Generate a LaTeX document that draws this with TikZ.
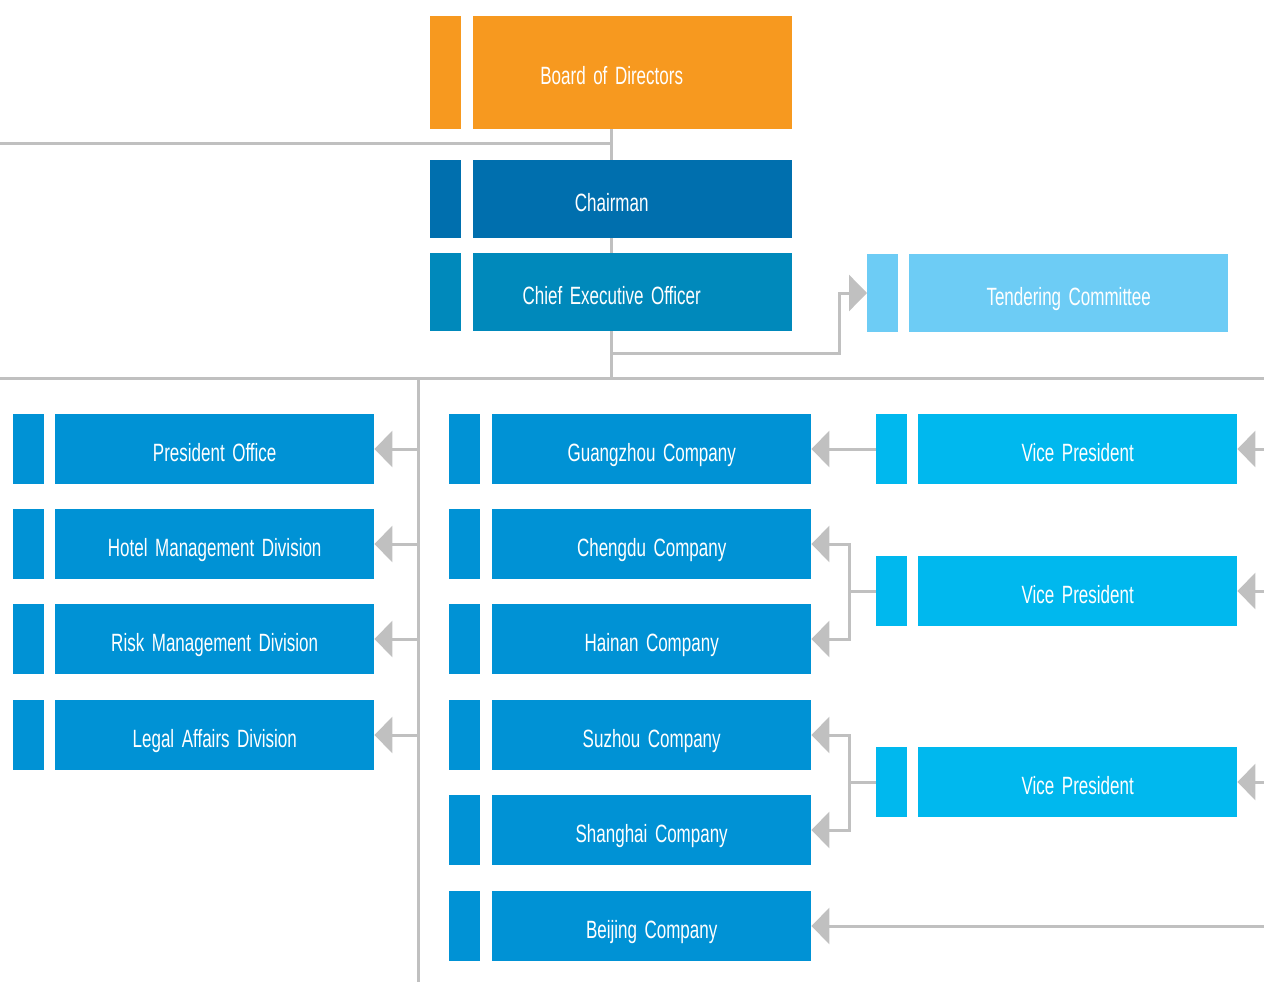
\documentclass[tikz,border=0pt]{standalone}
\usepackage{fontspec}
\setmainfont{Liberation Sans}[FakeStretch=0.68, WordSpace=1.6]
\usetikzlibrary{arrows.meta,backgrounds}

\definecolor{boardorange}{HTML}{F7991F}
\definecolor{chairblue}{HTML}{006FAE}
\definecolor{ceoblue}{HTML}{0089BB}
\definecolor{tenderblue}{HTML}{6DCCF5}
\definecolor{unitblue}{HTML}{0092D5}
\definecolor{vpblue}{HTML}{00B8EE}
\definecolor{linkgray}{HTML}{C0C0C0}

\tikzset{
  box/.style={fill=#1, text=white, anchor=west, inner sep=0pt,
    minimum width=319pt, minimum height=70pt,
    text height=24pt, text depth=0pt, font=\fontsize{25}{28}\selectfont},
  tab/.style={fill=#1, anchor=west, inner sep=0pt,
    minimum width=31pt, minimum height=70pt},
  toptext/.style={label={[text=white, xshift=-21pt, inner sep=0pt,
    text height=24pt, text depth=0pt, font=\fontsize{25}{28}\selectfont]center:#1}},
  link/.style={draw=linkgray, line width=3pt},
  feed/.style={link, -{Triangle[length=18pt,width=36pt]}},
}

\begin{document}
\begin{tikzpicture}[x=1pt, y=-1pt]
  \useasboundingbox (0,0) rectangle (1264,982);

  % top of the chart
  \node[tab=boardorange, minimum height=113pt] (boardtab) at (430,72.5) {};
  \node[box=boardorange, minimum height=113pt, toptext=Board of Directors] (board) at (473,72.5) {};
  \node[tab=chairblue, minimum height=78pt] (chairtab) at (430,199) {};
  \node[box=chairblue, minimum height=78pt, toptext=Chairman] (chair) at (473,199) {};
  \node[tab=ceoblue, minimum height=78pt] (ceotab) at (430,292) {};
  \node[box=ceoblue, minimum height=78pt, toptext=Chief Executive Officer] (ceo) at (473,292) {};
  \node[tab=tenderblue, minimum height=78pt] (tendertab) at (867,293) {};
  \node[box=tenderblue, minimum height=78pt] (tender) at (909,293) {Tendering Committee};

  % divisions
  \foreach \y/\n/\t in {449/po/President Office, 544/hmd/Hotel Management Division,
      639/rmd/Risk Management Division, 735/lad/Legal Affairs Division} {
    \node[tab=unitblue] (\n-tab) at (13,\y) {};
    \node[box=unitblue] (\n) at (55,\y) {\t};
  }

  % companies
  \foreach \y/\n/\t in {449/gz/Guangzhou Company, 544/cd/Chengdu Company,
      639/hn/Hainan Company, 735/sz/Suzhou Company,
      830/sh/Shanghai Company, 926/bj/Beijing Company} {
    \node[tab=unitblue] (\n-tab) at (449,\y) {};
    \node[box=unitblue] (\n) at (492,\y) {\t};
  }

  % vice presidents
  \foreach \y/\n in {449/vpa, 591/vpb, 782/vpc} {
    \node[tab=vpblue] (\n-tab) at (876,\y) {};
    \node[box=vpblue] (\n) at (918,\y) {Vice President};
  }

  \coordinate (trunk) at (611,378);
  \coordinate (busw) at (0,378);
  \coordinate (buse) at (1264,378);
  \coordinate (leftend) at (0,143);
  \coordinate (tbend) at (839,353);
  \coordinate (lspine) at (418,378);
  \coordinate (forkb) at (849,591);
  \coordinate (forkc) at (849,782);
  \coordinate (bjin) at (1264,926);

  \begin{scope}[on background layer]
    \draw[link] (board.south -| trunk) -- (trunk);
    \draw[link] (leftend) -- (leftend -| trunk);
    \draw[link] (busw) -- (buse);
    \draw[feed] (tbend -| trunk) -- (tbend) |- (tendertab.west);

    \draw[link] (lspine) -- ++(0,604);
    \foreach \n in {po,hmd,rmd,lad}
      \draw[feed] (\n.east -| lspine) -- (\n.east);

    \foreach \n in {vpa,vpb,vpc}
      \draw[feed] (\n.east -| buse) -- (\n.east);

    \draw[feed] (vpa-tab.west) -- (gz.east);

    \draw[link] (vpb-tab.west) -- (forkb);
    \draw[feed] (forkb) |- (cd.east);
    \draw[feed] (forkb) |- (hn.east);

    \draw[link] (vpc-tab.west) -- (forkc);
    \draw[feed] (forkc) |- (sz.east);
    \draw[feed] (forkc) |- (sh.east);

    \draw[feed] (bjin) -- (bj.east);
  \end{scope}
\end{tikzpicture}
\end{document}
